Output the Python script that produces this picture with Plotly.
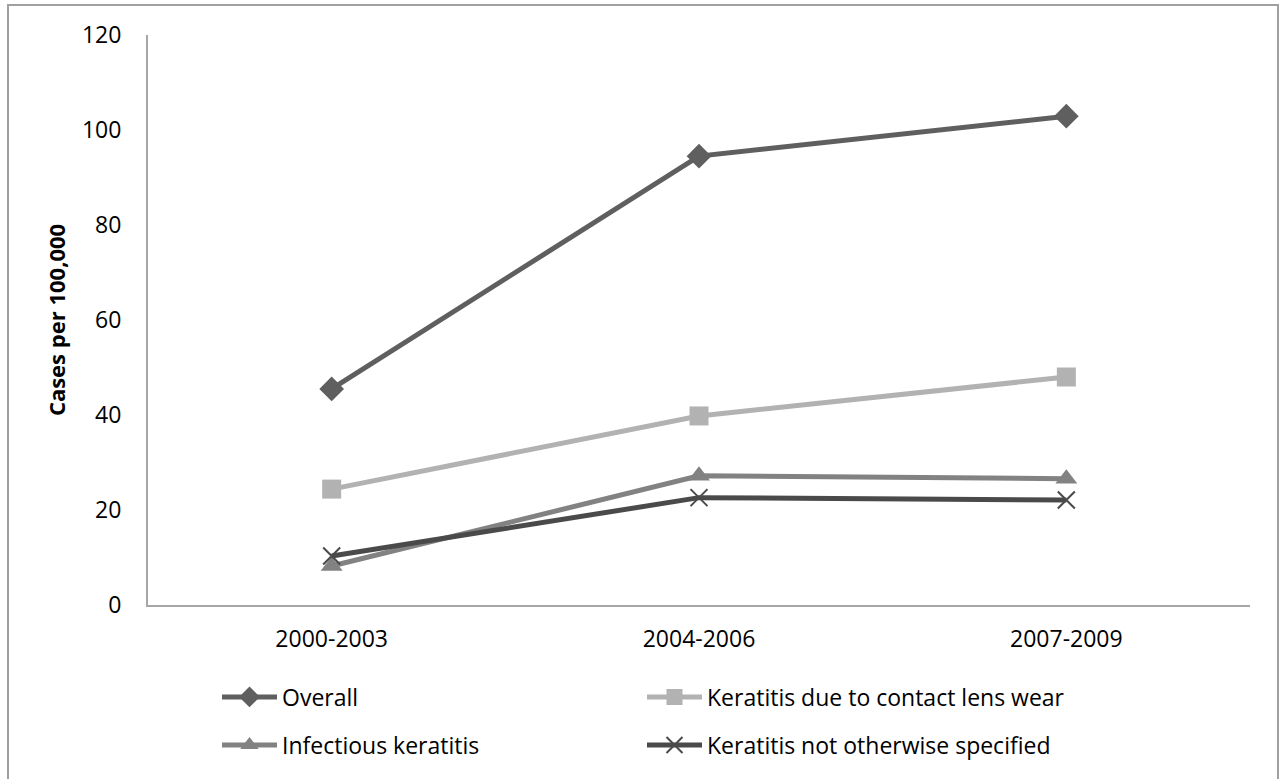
import plotly.graph_objects as go

periods = ["2000-2003", "2004-2006", "2007-2009"]
overall = [45.5, 94.5, 102.9]
contact_lens = [24.4, 39.8, 48.0]
infectious = [8.2, 27.2, 26.6]
not_specified = [10.3, 22.6, 22.1]

series = [
    ("Overall", overall, "#5f5f5f", "diamond", 19, "legend"),
    ("Keratitis due to contact lens wear", contact_lens, "#b2b2b2", "square", 19, "legend"),
    ("Infectious keratitis", infectious, "#828282", "triangle-up", 19, "legend2"),
    ("Keratitis not otherwise specified", not_specified, "#4a4a4a", "x-thin-open", 17, "legend2"),
]

fig = go.Figure()
for name, vals, color, symbol, size, leg in series:
    marker = dict(symbol=symbol, size=size, color=color)
    if symbol == "x-thin-open":
        marker["line"] = dict(color=color, width=2)
    fig.add_trace(go.Scatter(
        x=periods, y=vals, name=name, mode="lines+markers",
        line=dict(color=color, width=5), marker=marker, legend=leg,
    ))

L, R, T, B = 148, 35, 35, 174
W, H = 1285, 779
pw, ph = W - L - R, H - T - B

def px_x(p):
    return (p - L) / pw

def px_y(p):
    return (H - B - p) / ph

legend_font = dict(family="Open Sans, sans-serif", size=23, color="#000000")
common_legend = dict(orientation="h", xanchor="left", yanchor="middle",
                     itemwidth=55, entrywidth=355, entrywidthmode="pixels",
                     font=legend_font, bgcolor="rgba(0,0,0,0)", itemclick=False)

fig.update_layout(
    width=W, height=H,
    margin=dict(l=L, r=R, t=T, b=B),
    paper_bgcolor="white", plot_bgcolor="white",
    font=dict(family="Open Sans, sans-serif", color="#000000"),
    xaxis=dict(
        type="category", range=[-0.5, 2.5], showgrid=False, zeroline=False,
        showline=True, linecolor="#a6a6a6", linewidth=2, ticks="",
        ticklabelstandoff=12,
        tickfont=dict(size=23, color="#000000"),
    ),
    yaxis=dict(
        range=[0, 120], dtick=20, showgrid=False, zeroline=False,
        showline=True, linecolor="#a6a6a6", linewidth=2, ticks="",
        ticklabelstandoff=20,
        tickfont=dict(size=23, color="#000000"),
        title=dict(text="<b>Cases per 100,000</b>", standoff=10,
                   font=dict(size=22, color="#000000")),
    ),
    legend=dict(x=px_x(217), y=px_y(697), **common_legend),
    legend2=dict(x=px_x(217), y=px_y(745), **common_legend),
    shapes=[dict(type="rect", xref="paper", yref="paper",
                 x0=px_x(8), x1=px_x(1278), y0=px_y(800), y1=px_y(5),
                 line=dict(color="#a0a0a0", width=2), fillcolor="rgba(0,0,0,0)",
                 layer="below")],
)

fig.write_html("out.html")
